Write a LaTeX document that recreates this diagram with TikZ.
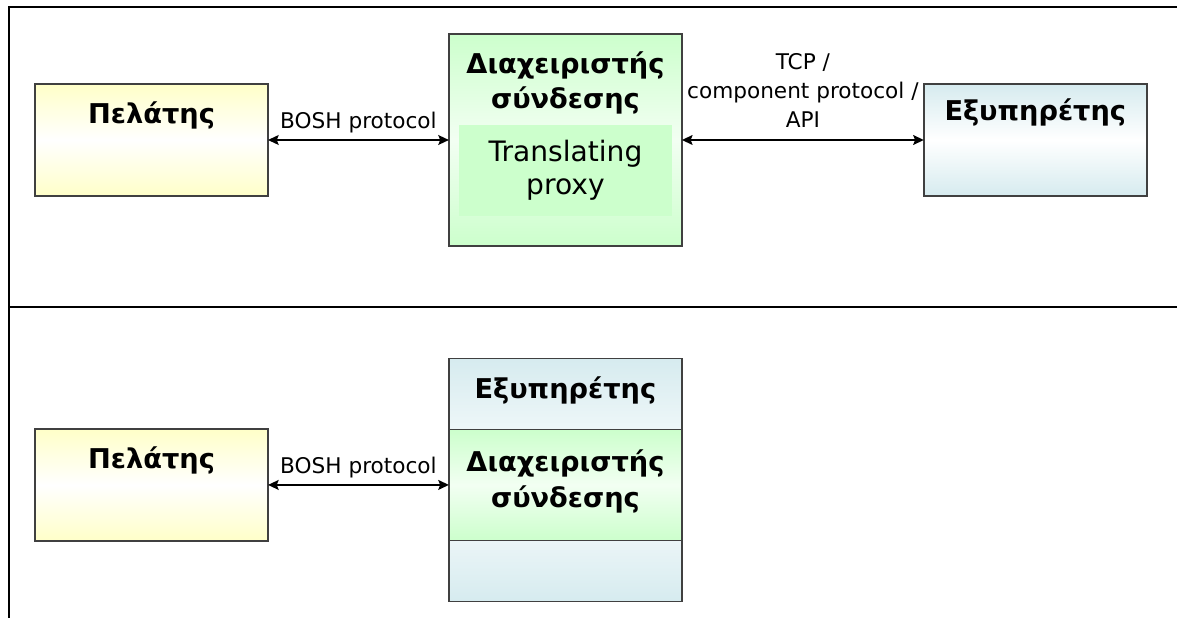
\documentclass[tikz,border=0pt]{standalone}
\usepackage{fontspec}
\setmainfont{DejaVu Sans}
\usepackage{xcolor}
\usepackage{tikz}
\usetikzlibrary{arrows.meta, positioning, calc}

\definecolor{clientfill}{HTML}{FFFFC8}
\definecolor{proxyfill}{HTML}{CCFFCC}
\definecolor{serverfill}{HTML}{D6EBEF}
\definecolor{boxline}{HTML}{404040}

\begin{document}
\begin{tikzpicture}[
    x=0.02cm, y=-0.02cm,
    node distance=3.62cm,
    box/.style={rectangle, draw=boxline, line width=0.8pt, outer sep=0pt, inner sep=0pt, minimum width=4.66cm},
    client/.style={box, minimum height=2.24cm, top color=clientfill, bottom color=clientfill, middle color=white},
    manager/.style={box, top color=proxyfill, bottom color=proxyfill, middle color=proxyfill!25},
    server/.style={box, top color=serverfill, bottom color=serverfill, middle color=white},
    title/.style={font=\fontsize{15.5}{20}\selectfont\bfseries, align=center, inner sep=0pt},
    proto/.style={font=\fontsize{12.3}{16.5}\selectfont, align=center, inner sep=0pt},
    arrow/.style={<->, >={Stealth[length=6pt, width=5.5pt, inset=1pt]}, line width=1.5pt},
    frame/.style={line width=1.3pt}
]
\useasboundingbox (0,0) rectangle (1177,618);

% Frame
\draw[frame] (1177,7) -- (9,7) -- (9,618);
\draw[line width=1pt] (9,307) -- (1177,307);

% Translating proxy
\node[client] (client1) at (151.5,140) {};
\node[manager, right=of client1, minimum height=4.24cm] (manager1) {};
\node[server, right=4.84cm of manager1, minimum width=4.46cm, minimum height=2.24cm] (server1) {};
\node[rectangle, fill=proxyfill, minimum width=4.26cm, minimum height=1.82cm,
      font=\fontsize{16}{19}\selectfont, align=center] (proxy1) at ($(manager1.center)+(0,30.5)$) {Translating\\proxy};

\node[title] (client1title) at ($(client1.north)+(0,31)$) {Πελάτης};
\node[title] (manager1title) at ($(manager1.north)+(0,49)$) {Διαχειριστής\\σύνδεσης};
\node[title] (server1title) at ($(server1.north)+(0,28)$) {Εξυπηρέτης};

\draw[arrow] (client1) -- node[proto, above=0.12cm] (bosh1) {BOSH protocol} (manager1);
\draw[arrow] (manager1) -- node[proto, above=0.22cm] (tcp1) {TCP /\\component protocol /\\API} (server1);

% Embedded manager
\node[client, below=4.66cm of client1] (client2) {};
\node[server, right=of client2, yshift=0.1cm, minimum height=4.86cm] (server2) {};
\node[manager, right=of client2, minimum height=2.22cm] (manager2) {};

\node[title] (client2title) at ($(client2.north)+(0,31)$) {Πελάτης};
\node[title] (server2title) at ($(server2.north)+(0,32)$) {Εξυπηρέτης};
\node[title] (manager2title) at ($(manager2.north)+(0,52)$) {Διαχειριστής\\σύνδεσης};

\draw[arrow] (client2) -- node[proto, above=0.12cm] (bosh2) {BOSH protocol} (manager2);

\end{tikzpicture}
\end{document}
